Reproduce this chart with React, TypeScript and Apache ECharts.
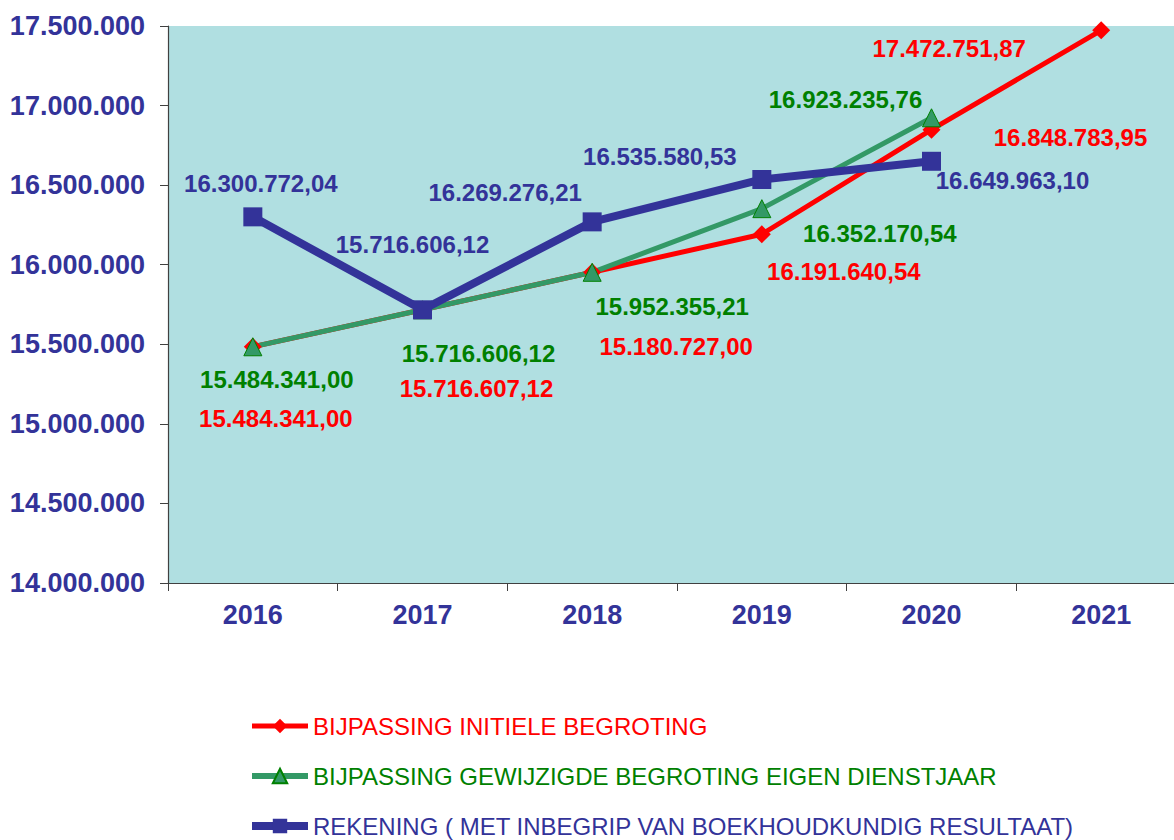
import React, { useEffect, useRef } from "react";
import * as echarts from "echarts";

const categories = ["2016", "2017", "2018", "2019", "2020", "2021"];

const seriesNames = [
  "BIJPASSING INITIELE BEGROTING",
  "BIJPASSING GEWIJZIGDE BEGROTING EIGEN DIENSTJAAR",
  "REKENING ( MET INBEGRIP VAN BOEKHOUDKUNDIG RESULTAAT)",
];

const initieleValues = [15484341.0, 15716607.12, 15952355.21, 16191640.54, 16848783.95, 17472751.87];
const initieleLabels = ["15.484.341,00", "15.716.607,12", "15.180.727,00", "16.191.640,54", "16.848.783,95", "17.472.751,87"];

const gewijzigdeValues = [15484341.0, 15716606.12, 15952355.21, 16352170.54, 16923235.76, null];
const gewijzigdeLabels = ["15.484.341,00", "15.716.606,12", "15.952.355,21", "16.352.170,54", "16.923.235,76", ""];

const rekeningValues = [16300772.04, 15716606.12, 16269276.21, 16535580.53, 16649963.1, null];
const rekeningLabels = ["16.300.772,04", "15.716.606,12", "16.269.276,21", "16.535.580,53", "16.649.963,10", ""];

const yMin = 14000000;
const yMax = 17500000;
const yInterval = 500000;

const RED = "#ff0000";
const GREEN_LINE = "#339966";
const GREEN_TEXT = "#008000";
const BLUE = "#333399";
const FONT = "'Liberation Sans', Arial, sans-serif";

const redOffsets = [[23, 72], [54, 79], [84, 74], [82, 37], [139, 8], [-152, 18]];
const greenOffsets = [[24, 33], [56, 44], [80, 34], [118, 25], [-86, -18], [0, 0]];
const blueOffsets = [[8, -33], [-10, -65], [-87, -29], [-102, -23], [81, 19], [0, 0]];

function fmtThousands(v: number): string {
  return String(Math.round(v)).replace(/\B(?=(\d{3})+(?!\d))/g, ".");
}

function buildData(values: (number | null)[], labels: string[], offsets: number[][], color: string) {
  return values.map((v, i) => ({
    value: v,
    label: {
      show: v !== null,
      position: "inside",
      offset: offsets[i],
      formatter: () => labels[i],
      color,
      fontFamily: FONT,
      fontWeight: "bold",
      fontSize: 24,
    },
  }));
}

export default function App() {
  const ref = useRef<HTMLDivElement>(null);
  useEffect(() => {
    if (!ref.current) return;
    const chart = echarts.init(ref.current, null, { renderer: "svg" });
    chart.setOption({
      animation: false,
      backgroundColor: "#ffffff",
      grid: {
        show: true,
        backgroundColor: "#b0dfe1",
        borderWidth: 0,
        left: 168,
        top: 26,
        bottom: 257,
        right: 0,
        containLabel: false,
      },
      xAxis: {
        type: "category",
        data: categories,
        boundaryGap: true,
        axisLine: { show: true, lineStyle: { color: "#404040", width: 1.2 } },
        axisTick: { show: true, alignWithLabel: false, length: 8, lineStyle: { color: "#404040" } },
        axisLabel: {
          color: BLUE,
          fontFamily: FONT,
          fontWeight: "bold",
          fontSize: 27,
          margin: 18,
        },
        splitLine: { show: false },
      },
      yAxis: {
        type: "value",
        min: yMin,
        max: yMax,
        interval: yInterval,
        axisLine: { show: true, lineStyle: { color: "#404040", width: 1.2 } },
        axisTick: { show: true, length: 8, lineStyle: { color: "#404040" } },
        axisLabel: {
          color: BLUE,
          fontFamily: FONT,
          fontWeight: "bold",
          fontSize: 27,
          margin: 23,
          formatter: (v: number) => fmtThousands(v),
        },
        splitLine: { show: false },
      },
      legend: {
        orient: "vertical",
        left: 248,
        top: 714,
        padding: 0,
        itemWidth: 56,
        itemHeight: 18,
        itemGap: 26,
        textStyle: { fontFamily: FONT, fontSize: 24, lineHeight: 24 },
        data: [
          { name: seriesNames[0], textStyle: { color: RED }, lineStyle: { width: 5 } },
          { name: seriesNames[1], textStyle: { color: GREEN_TEXT }, lineStyle: { width: 6 } },
          { name: seriesNames[2], textStyle: { color: BLUE }, lineStyle: { width: 8 } },
        ],
      },
      series: [
        {
          name: seriesNames[0],
          type: "line",
          data: buildData(initieleValues, initieleLabels, redOffsets, RED),
          symbol: "diamond",
          symbolSize: 18,
          lineStyle: { color: RED, width: 5 },
          itemStyle: { color: RED },
        },
        {
          name: seriesNames[1],
          type: "line",
          data: buildData(gewijzigdeValues, gewijzigdeLabels, greenOffsets, GREEN_TEXT),
          symbol: "triangle",
          symbolSize: 18,
          lineStyle: { color: GREEN_LINE, width: 5 },
          itemStyle: { color: GREEN_LINE, borderColor: GREEN_TEXT, borderWidth: 1 },
        },
        {
          name: seriesNames[2],
          type: "line",
          data: buildData(rekeningValues, rekeningLabels, blueOffsets, BLUE),
          symbol: "rect",
          symbolSize: 19,
          lineStyle: { color: BLUE, width: 8 },
          itemStyle: { color: BLUE },
        },
      ],
    });
    return () => chart.dispose();
  }, []);
  return (
    <div style={{ position: "fixed", left: 0, top: 0, width: 1174, height: 840, overflow: "hidden" }}>
      <div ref={ref} style={{ position: "absolute", left: 0, top: 0, width: 1186, height: 840 }} />
    </div>
  );
}
